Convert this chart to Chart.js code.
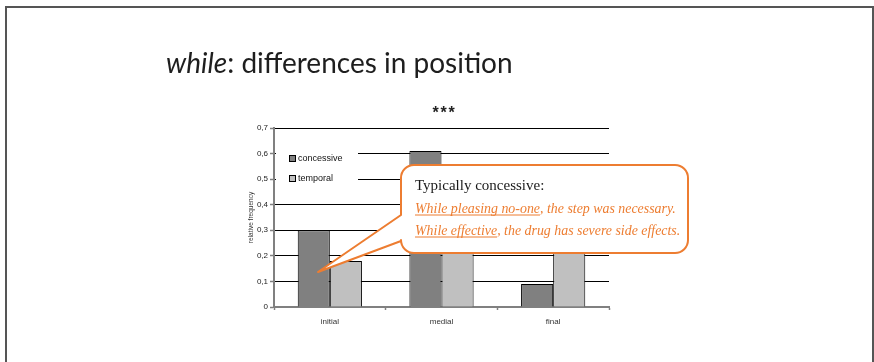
<!DOCTYPE html>
<html>
<head>
<meta charset="utf-8">
<script src="https://cdn.jsdelivr.net/npm/chart.js@4.4.1/dist/chart.umd.min.js"></script>
<style>
  html, body { margin: 0; padding: 0; background: #fff; overflow: hidden; }
  canvas { display: block; }
</style>
</head>
<body>
<canvas id="c" width="874" height="362"></canvas>
<script>
// Position of "while" clauses: relative frequency per reading
const positions = ['initial', 'medial', 'final'];
const seriesNames = ['concessive', 'temporal'];
const concessive = [0.30, 0.61, 0.09];
const temporal = [0.18, 0.38, 0.44];
const yTickLabels = ['0', '0,1', '0,2', '0,3', '0,4', '0,5', '0,6', '0,7'];

const slideTitleItalic = 'while';
const slideTitleRest = ': differences in position';
const significance = '***';
const yAxisTitle = 'relative frequency';

const calloutHeading = 'Typically concessive:';
const calloutExamples = [
  ['While pleasing no-one', ', the step was necessary.'],
  ['While effective', ', the drug has severe side effects.']
];

const seriesColors = ['#808080', '#c0c0c0'];
const ORANGE = '#ED7D31';

// Slide frame, slide title and the significance marker above the plot
const slideDecor = {
  id: 'slideDecor',
  beforeDraw(chart) {
    const ctx = chart.ctx;
    ctx.save();
    ctx.fillStyle = '#fff';
    ctx.fillRect(0, 0, chart.width, chart.height);
    ctx.strokeStyle = '#555';
    ctx.lineWidth = 2;
    ctx.strokeRect(6, 7, 867, 400);

    ctx.fillStyle = '#1e1e1e';
    ctx.textBaseline = 'alphabetic';
    ctx.textAlign = 'left';
    ctx.font = 'italic 28px Lato';
    ctx.fillText(slideTitleItalic, 166, 73);
    const w = ctx.measureText(slideTitleItalic).width;
    ctx.font = '28px Lato';
    ctx.fillText(slideTitleRest, 166 + w, 73);

    const a = chart.chartArea;
    ctx.font = 'bold 16px "Liberation Sans"';
    ctx.textAlign = 'center';
    ctx.fillStyle = '#222';
    const cx = (a.left + a.right) / 2 + 2;
    // spread the three stars a little
    const step = 8;
    for (let k = 0; k < significance.length; k++) {
      ctx.fillText(significance[k], cx + (k - (significance.length - 1) / 2) * step, 117.5);
    }
    ctx.restore();
  }
};

// Legend drawn inside the plot, on a white patch over the grid lines
const innerLegend = {
  id: 'innerLegend',
  afterDatasetsDraw(chart) {
    const ctx = chart.ctx;
    const a = chart.chartArea;
    ctx.save();
    ctx.fillStyle = '#fff';
    ctx.fillRect(a.left + 2, 141, 82, 50);
    ctx.font = '9px "Liberation Sans"';
    ctx.textBaseline = 'middle';
    ctx.textAlign = 'left';
    chart.data.datasets.forEach((ds, i) => {
      const y = 159 + i * 20;
      ctx.fillStyle = ds.backgroundColor;
      ctx.fillRect(a.left + 15.5, y - 3.5, 6, 6);
      ctx.strokeStyle = '#000';
      ctx.lineWidth = 1;
      ctx.strokeRect(a.left + 15.5, y - 3.5, 6, 6);
      ctx.fillStyle = '#111';
      ctx.fillText(ds.label, a.left + 24, y);
    });
    ctx.restore();
  }
};

// Speech-bubble note pointing at the initial concessive bar
const calloutNote = {
  id: 'calloutNote',
  afterDraw(chart) {
    const ctx = chart.ctx;
    const x0 = 401, y0 = 165, x1 = 688, y1 = 253, r = 13;
    const tipX = 318, tipY = 272;
    ctx.save();
    ctx.beginPath();
    ctx.moveTo(x0 + r, y0);
    ctx.lineTo(x1 - r, y0);
    ctx.arcTo(x1, y0, x1, y0 + r, r);
    ctx.lineTo(x1, y1 - r);
    ctx.arcTo(x1, y1, x1 - r, y1, r);
    ctx.lineTo(x0 + r, y1);
    ctx.arcTo(x0, y1, x0, y1 - r, r);
    ctx.lineTo(x0, 241);
    ctx.lineTo(tipX, tipY);
    ctx.lineTo(x0, 215);
    ctx.lineTo(x0, y0 + r);
    ctx.arcTo(x0, y0, x0 + r, y0, r);
    ctx.closePath();
    ctx.fillStyle = '#fff';
    ctx.fill();
    ctx.strokeStyle = ORANGE;
    ctx.lineWidth = 2;
    ctx.lineJoin = 'round';
    ctx.stroke();

    ctx.textAlign = 'left';
    ctx.textBaseline = 'alphabetic';
    ctx.fillStyle = '#1a1a1a';
    ctx.font = '15px "Liberation Serif"';
    ctx.fillText(calloutHeading, 415, 190);

    ctx.font = 'italic 13.9px "Liberation Serif"';
    ctx.fillStyle = ORANGE;
    ctx.strokeStyle = ORANGE;
    ctx.lineWidth = 1;
    calloutExamples.forEach((parts, i) => {
      const y = 212.5 + i * 22;
      ctx.fillText(parts[0], 415, y);
      const w = ctx.measureText(parts[0]).width;
      ctx.beginPath();
      ctx.moveTo(415, y + 2.5);
      ctx.lineTo(415 + w, y + 2.5);
      ctx.stroke();
      ctx.fillText(parts[1], 415 + w, y);
    });
    ctx.restore();
  }
};

new Chart(document.getElementById('c'), {
  type: 'bar',
  data: {
    labels: positions,
    datasets: [
      { label: seriesNames[0], data: concessive, backgroundColor: seriesColors[0] },
      { label: seriesNames[1], data: temporal, backgroundColor: seriesColors[1] }
    ]
  },
  options: {
    responsive: false,
    animation: false,
    devicePixelRatio: 1,
    layout: { padding: { left: 240, right: 265, top: 128, bottom: 30 } },
    datasets: {
      bar: {
        borderColor: '#000',
        borderWidth: 1,
        categoryPercentage: 0.575,
        barPercentage: 1
      }
    },
    plugins: {
      legend: { display: false },
      title: { display: false },
      tooltip: { enabled: false }
    },
    scales: {
      x: {
        offset: true,
        grid: {
          offset: true,
          drawOnChartArea: false,
          drawTicks: true,
          tickLength: 3,
          tickColor: '#808080',
          tickWidth: 1.5
        },
        border: { display: true, color: '#808080', width: 2 },
        ticks: {
          color: '#333',
          font: { family: 'Liberation Sans', size: 8 },
          padding: 7,
          maxRotation: 0
        },
        afterFit(scale) { scale.height = 25; }
      },
      y: {
        min: 0,
        max: 0.7,
        ticks: {
          stepSize: 0.1,
          color: '#222',
          font: { family: 'Liberation Sans', size: 8 },
          padding: 2,
          callback: (v, i) => yTickLabels[i]
        },
        grid: {
          color: '#000',
          lineWidth: 1,
          drawTicks: true,
          tickLength: 4,
          tickColor: '#808080',
          tickWidth: 1.5
        },
        border: { display: true, color: '#808080', width: 2 },
        title: {
          display: true,
          text: yAxisTitle,
          color: '#333',
          font: { family: 'Liberation Sans', size: 6.5 },
          padding: { top: 7, bottom: 0 }
        },
        afterFit(scale) { scale.width = 34; }
      }
    }
  },
  plugins: [slideDecor, innerLegend, calloutNote]
});
</script>
</body>
</html>
